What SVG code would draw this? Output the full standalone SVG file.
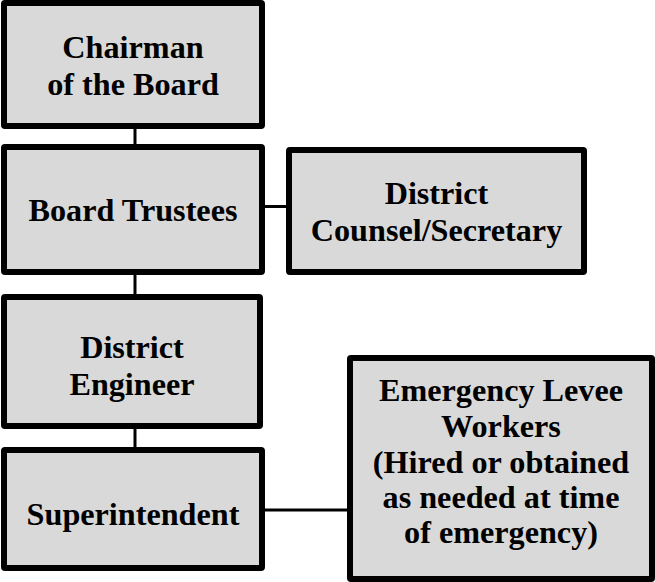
<svg xmlns="http://www.w3.org/2000/svg" width="655" height="582" viewBox="0 0 655 582">
<style>
.box{fill:#d9d9d9;stroke:#000;stroke-width:6;stroke-linejoin:round}
.lbl{font-family:"Liberation Serif","Times New Roman",serif;font-weight:bold;font-size:32.2px;fill:#000;text-anchor:middle}
.conn line{stroke:#000;stroke-width:3}
</style>
<rect width="655" height="582" fill="#fff"/>
<g id="connectors" class="conn">
<line x1="135" y1="128" x2="135" y2="145"/>
<line x1="264" y1="206.5" x2="287" y2="206.5"/>
<line x1="135" y1="274" x2="135" y2="295"/>
<line x1="135" y1="428" x2="135" y2="449"/>
<line x1="264" y1="510" x2="348" y2="510"/>
</g>
<g id="chairman">
<rect class="box" x="4" y="3" width="258" height="123" rx="1"/>
<text class="lbl" x="133" y="58">Chairman</text>
<text class="lbl" x="133" y="95">of the Board</text>
</g>
<g id="board-trustees">
<rect class="box" x="4" y="147" width="258" height="125" rx="1"/>
<text class="lbl" x="133" y="220.5">Board Trustees</text>
</g>
<g id="district-counsel">
<rect class="box" x="289" y="150" width="295" height="122" rx="1"/>
<text class="lbl" x="436.5" y="204">District</text>
<text class="lbl" x="436.5" y="240.5">Counsel/Secretary</text>
</g>
<g id="district-engineer">
<rect class="box" x="4" y="297" width="256" height="129" rx="1"/>
<text class="lbl" x="132" y="358">District</text>
<text class="lbl" x="132" y="395">Engineer</text>
</g>
<g id="superintendent">
<rect class="box" x="4" y="450" width="258" height="118" rx="1"/>
<text class="lbl" x="133" y="524.5">Superintendent</text>
</g>
<g id="emergency-workers">
<rect class="box" x="350" y="358" width="302" height="221" rx="1"/>
<text class="lbl" x="501" y="401">Emergency Levee</text>
<text class="lbl" x="501" y="436.5">Workers</text>
<text class="lbl" x="501" y="473">(Hired or obtained</text>
<text class="lbl" x="501" y="508.3">as needed at time</text>
<text class="lbl" x="501" y="543.3">of emergency)</text>
</g>
</svg>
